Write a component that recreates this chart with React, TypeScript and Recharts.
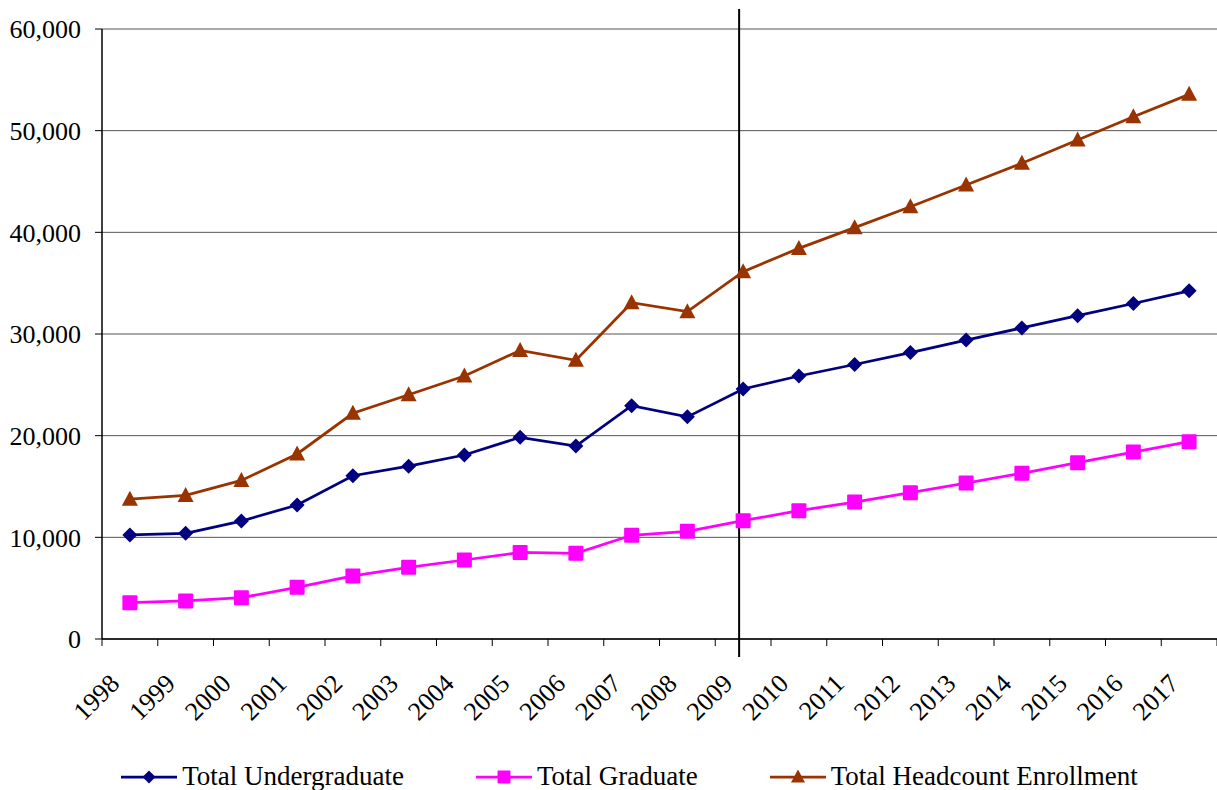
import { LineChart, Line, XAxis, YAxis, CartesianGrid, ReferenceLine, Legend } from 'recharts';

const years = ['1998', '1999', '2000', '2001', '2002', '2003', '2004', '2005', '2006', '2007',
  '2008', '2009', '2010', '2011', '2012', '2013', '2014', '2015', '2016', '2017'];

const undergraduate = [10230, 10400, 11600, 13180, 16060, 17000, 18100, 19840, 18980, 22950,
  21850, 24590, 25870, 27000, 28170, 29400, 30600, 31800, 33000, 34250];

const graduate = [3570, 3740, 4060, 5080, 6200, 7050, 7770, 8520, 8430, 10200,
  10590, 11640, 12620, 13470, 14390, 15340, 16300, 17340, 18390, 19410];

const headcount = [13750, 14120, 15600, 18200, 22200, 24020, 25870, 28380, 27420, 33080,
  32200, 36130, 38420, 40460, 42520, 44660, 46800, 49080, 51370, 53570];

const yTicks = [0, 10000, 20000, 30000, 40000, 50000, 60000];
const markerYear = '2009';

const data = years.map((year, i) => ({
  year,
  undergraduate: undergraduate[i],
  graduate: graduate[i],
  headcount: headcount[i],
}));

const W = 1217;
const H = 790;
const Y_AXIS_W = 102;
const FONT = 'Liberation Serif, Tinos, DejaVu Serif, serif';
const BAND = (W - Y_AXIS_W) / years.length;

const series = [
  { key: 'undergraduate', name: 'Total Undergraduate', color: '#000080', shape: 'diamond' },
  { key: 'graduate', name: 'Total Graduate', color: '#FF00FF', shape: 'square' },
  { key: 'headcount', name: 'Total Headcount Enrollment', color: '#993300', shape: 'triangle' },
];

function Marker({ cx, cy, shape, color, s = 7.5 }: any) {
  if (cx == null || cy == null) return null;
  if (shape === 'diamond') {
    return <path d={`M${cx},${cy - s} L${cx + s},${cy} L${cx},${cy + s} L${cx - s},${cy} Z`} fill={color} />;
  }
  if (shape === 'square') {
    return <rect x={cx - s} y={cy - s} width={s * 2} height={s * 2} rx={1} fill={color} />;
  }
  return <path d={`M${cx},${cy - s - 1} L${cx + s + 0.5},${cy + s - 1} L${cx - s - 0.5},${cy + s - 1} Z`} fill={color} />;
}

// category ticks sit between the years, labels are slanted under each year
function YearTick({ x, y, payload, index }: any) {
  const tx = x - BAND / 2;
  return (
    <g>
      <line x1={tx} y1={y} x2={tx} y2={y + 7} stroke="#000" strokeWidth={1} />
      {index === years.length - 1 && (
        <line x1={x + BAND / 2} y1={y} x2={x + BAND / 2} y2={y + 7} stroke="#000" strokeWidth={1} />
      )}
      <text
        transform={`translate(${x - 9}, ${y + 46}) rotate(-45)`}
        textAnchor="end"
        fontFamily={FONT}
        fontSize={26}
        fill="#000"
      >
        {payload.value}
      </text>
    </g>
  );
}

function CountTick({ x, y, payload }: any) {
  return (
    <text x={x} y={y} dy="0.355em" textAnchor="end" fontFamily={FONT} fontSize={26} fill="#000">
      {Number(payload.value).toLocaleString('en-US')}
    </text>
  );
}

function LegendContent() {
  return (
    <div
      style={{
        display: 'flex',
        justifyContent: 'center',
        gap: 72,
        fontFamily: FONT,
        fontSize: 27,
        paddingTop: 11,
        paddingLeft: 42,
      }}
    >
      {series.map((s) => (
        <div key={s.key} style={{ display: 'flex', alignItems: 'center' }}>
          <svg width={56} height={20} style={{ marginRight: 5 }}>
            <line x1={0} y1={10} x2={56} y2={10} stroke={s.color} strokeWidth={2.75} />
            <Marker cx={28} cy={10} shape={s.shape} color={s.color} s={6.5} />
          </svg>
          <span style={{ color: '#000', whiteSpace: 'nowrap' }}>{s.name}</span>
        </div>
      ))}
    </div>
  );
}

export default function App() {
  return (
    <div style={{ position: 'absolute', left: 0, top: 0, width: W, height: H, background: '#fff' }}>
      <LineChart width={W} height={H} data={data} margin={{ top: 29, right: 0, left: 0, bottom: 0 }}>
        <CartesianGrid vertical={false} stroke="#555" strokeWidth={1} />
        <XAxis
          dataKey="year"
          interval={0}
          height={111}
          tickSize={0}
          tickMargin={0}
          padding={{ left: BAND / 2, right: BAND / 2 }}
          tick={<YearTick />}
          axisLine={{ stroke: '#000', strokeWidth: 1.5 }}
        />
        <YAxis
          width={Y_AXIS_W}
          domain={[0, 60000]}
          ticks={yTicks}
          tickSize={7}
          tickMargin={14}
          tickLine={{ stroke: '#000' }}
          axisLine={{ stroke: '#000', strokeWidth: 1.5 }}
          tick={<CountTick />}
        />
        <ReferenceLine
          x={markerYear}
          shape={(p: any) => (
            <line
              x1={p.x1 - 4}
              y1={Math.min(p.y1, p.y2) - 20}
              x2={p.x2 - 4}
              y2={Math.max(p.y1, p.y2) + 18}
              stroke="#000"
              strokeWidth={2}
            />
          )}
        />
        {series.map((s) => (
          <Line
            key={s.key}
            dataKey={s.key}
            name={s.name}
            type="linear"
            stroke={s.color}
            strokeWidth={2.75}
            isAnimationActive={false}
            dot={(p: any) => <Marker key={`${s.key}-${p.index}`} cx={p.cx} cy={p.cy} shape={s.shape} color={s.color} />}
            activeDot={false}
          />
        ))}
        <Legend verticalAlign="bottom" height={40} content={<LegendContent />} />
      </LineChart>
    </div>
  );
}
